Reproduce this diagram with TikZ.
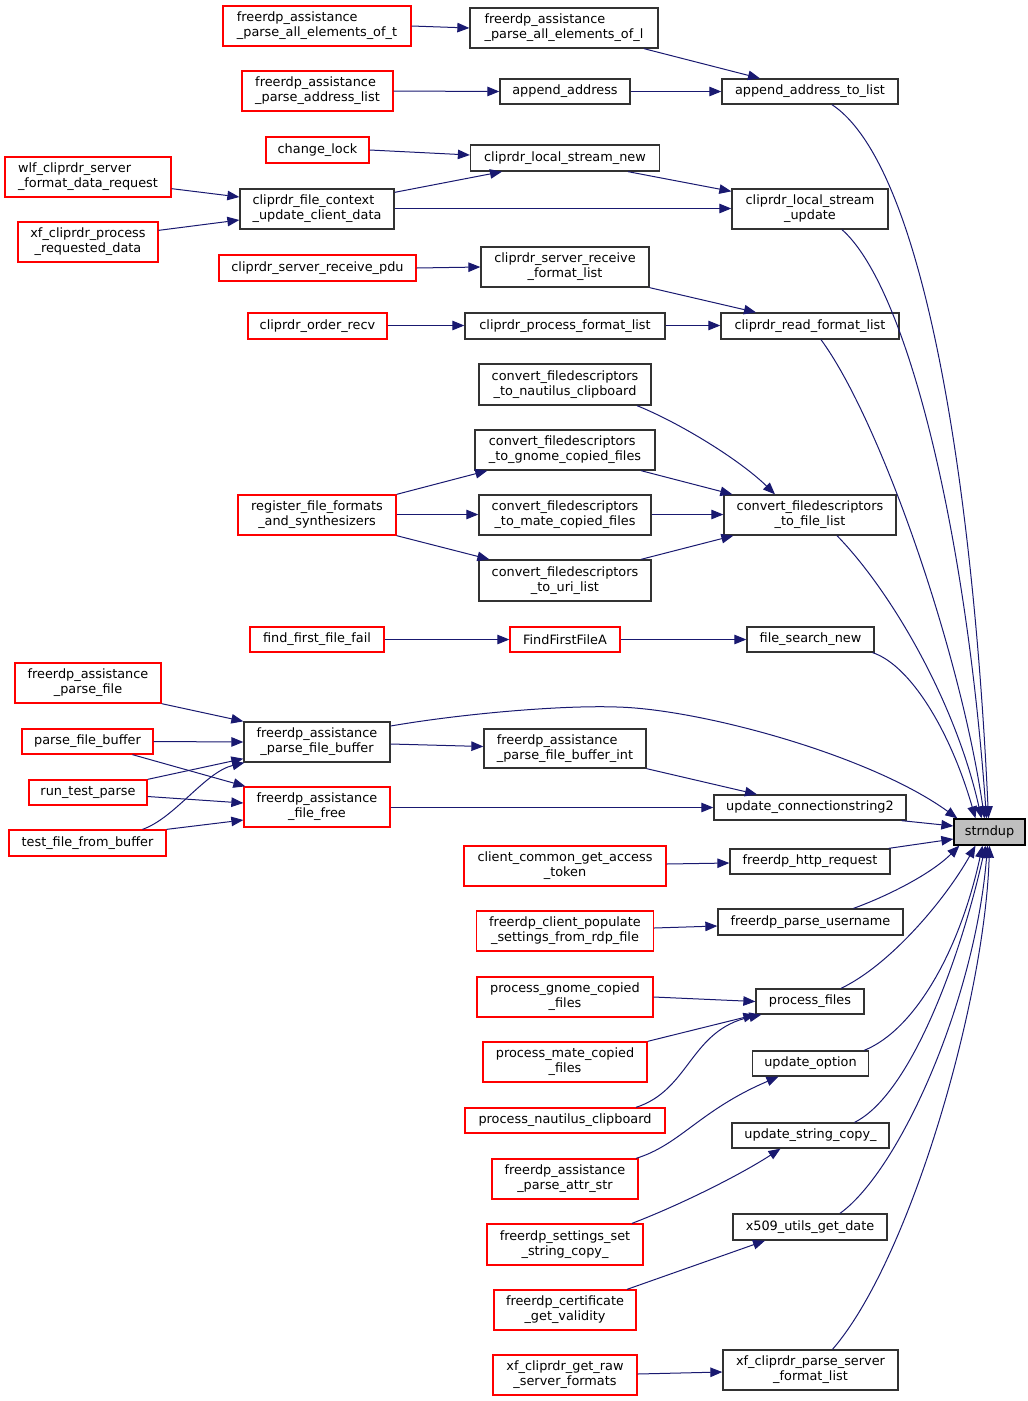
\documentclass[tikz,border=0pt]{standalone}
\usepackage{fontspec}
\usetikzlibrary{arrows.meta,calc}
\newfontfamily\dejavu{DejaVu Sans}
\definecolor{edgeblue}{RGB}{25,25,112}
\definecolor{boxgray}{RGB}{50,50,50}
\definecolor{fillgray}{RGB}{191,191,191}
\tikzset{
  fn/.style={draw=boxgray, fill=white, line width=1.3pt, inner sep=0pt, text=black,
    font={\dejavu\fontsize{12.85}{15}\selectfont}},
  fnr/.style={fn, draw=red},
  lft/.style={align=left},
  ctr/.style={align=center},
  edge/.style={draw=edgeblue, line width=1pt, -{Triangle[length=12pt,width=9.5pt]}},
}
\begin{document}
\begin{tikzpicture}[x=1pt,y=-1pt]
\useasboundingbox (0,0) rectangle (1028,1401);
% nodes
\node[fnr,lft,minimum width=188pt,minimum height=40pt] (n1) at (317,26) {freerdp\_assistance\\\_parse\_all\_elements\_of\_t};
\node[fn,lft,minimum width=188pt,minimum height=40pt] (n2) at (564,28) {freerdp\_assistance\\\_parse\_all\_elements\_of\_l};
\node[fnr,lft,minimum width=151pt,minimum height=40pt] (n3) at (317.5,91) {freerdp\_assistance\\\_parse\_address\_list};
\node[fn,minimum width=130pt,minimum height=25pt] (n4) at (565,91.5) {append\_address};
\node[fn,minimum width=176pt,minimum height=25pt] (n5) at (810,91.5) {append\_address\_to\_list};
\node[fnr,minimum width=103pt,minimum height=26pt] (n6) at (317.5,150) {change\_lock};
\node[fn,minimum width=189pt,minimum height=26pt] (n7) at (565,158) {cliprdr\_local\_stream\_new};
\node[fnr,lft,minimum width=166pt,minimum height=40pt] (n8) at (88,177) {wlf\_cliprdr\_server\\\_format\_data\_request};
\node[fnr,ctr,minimum width=140pt,minimum height=40pt] (n9) at (88,242) {xf\_cliprdr\_process\\\_requested\_data};
\node[fn,lft,minimum width=154pt,minimum height=40pt] (n10) at (317,209) {cliprdr\_file\_context\\\_update\_client\_data};
\node[fn,ctr,minimum width=156pt,minimum height=40pt] (n11) at (810,209) {cliprdr\_local\_stream\\\_update};
\node[fnr,minimum width=197pt,minimum height=26pt] (n12) at (317.5,268) {cliprdr\_server\_receive\_pdu};
\node[fn,ctr,minimum width=168pt,minimum height=40pt] (n13) at (565,267) {cliprdr\_server\_receive\\\_format\_list};
\node[fnr,minimum width=139pt,minimum height=26pt] (n14) at (317.5,326) {cliprdr\_order\_recv};
\node[fn,minimum width=200pt,minimum height=26pt] (n15) at (565,326) {cliprdr\_process\_format\_list};
\node[fn,minimum width=178pt,minimum height=26pt] (n16) at (810,326) {cliprdr\_read\_format\_list};
\node[fn,ctr,minimum width=172pt,minimum height=41pt] (n17) at (565,384.5) {convert\_filedescriptors\\\_to\_nautilus\_clipboard};
\node[fn,lft,minimum width=180pt,minimum height=40pt] (n18) at (565,450) {convert\_filedescriptors\\\_to\_gnome\_copied\_files};
\node[fn,ctr,minimum width=172pt,minimum height=40pt] (n19) at (565,515) {convert\_filedescriptors\\\_to\_mate\_copied\_files};
\node[fn,ctr,minimum width=172pt,minimum height=41pt] (n20) at (565,580.5) {convert\_filedescriptors\\\_to\_uri\_list};
\node[fn,ctr,minimum width=172pt,minimum height=40pt] (n21) at (810,515) {convert\_filedescriptors\\\_to\_file\_list};
\node[fnr,ctr,minimum width=158pt,minimum height=40pt] (n22) at (317,515) {register\_file\_formats\\\_and\_synthesizers};
\node[fnr,minimum width=134pt,minimum height=25pt] (n23) at (317,639.5) {find\_first\_file\_fail};
\node[fnr,minimum width=110pt,minimum height=25pt] (n24) at (565,639.5) {FindFirstFileA};
\node[fn,minimum width=127pt,minimum height=25pt] (n25) at (810.5,639.5) {file\_search\_new};
\node[fnr,ctr,minimum width=146pt,minimum height=40pt] (n26) at (88,683) {freerdp\_assistance\\\_parse\_file};
\node[fnr,minimum width=131pt,minimum height=25pt] (n27) at (87.5,741.5) {parse\_file\_buffer};
\node[fnr,minimum width=118pt,minimum height=25pt] (n28) at (88,792.5) {run\_test\_parse};
\node[fnr,minimum width=157pt,minimum height=26pt] (n29) at (87.5,843) {test\_file\_from\_buffer};
\node[fn,ctr,minimum width=146pt,minimum height=40pt] (n30) at (317,742) {freerdp\_assistance\\\_parse\_file\_buffer};
\node[fnr,ctr,minimum width=146pt,minimum height=40pt] (n31) at (317,807) {freerdp\_assistance\\\_file\_free};
\node[fn,lft,minimum width=162pt,minimum height=39pt] (n32) at (565,748.5) {freerdp\_assistance\\\_parse\_file\_buffer\_int};
\node[fn,minimum width=192pt,minimum height=25pt] (n33) at (810,807.5) {update\_connectionstring2};
\node[fn,draw=black,fill=fillgray,minimum width=71pt,minimum height=26pt] (n34) at (989.5,832) {strndup};
\node[fnr,ctr,minimum width=202pt,minimum height=40pt] (n35) at (565,866) {client\_common\_get\_access\\\_token};
\node[fn,minimum width=160pt,minimum height=25pt] (n36) at (810,861.5) {freerdp\_http\_request};
\node[fnr,ctr,minimum width=177pt,minimum height=40pt] (n37) at (565,931) {freerdp\_client\_populate\\\_settings\_from\_rdp\_file};
\node[fn,minimum width=185pt,minimum height=26pt] (n38) at (810.5,922) {freerdp\_parse\_username};
\node[fnr,ctr,minimum width=176pt,minimum height=40pt] (n39) at (565,997) {process\_gnome\_copied\\\_files};
\node[fn,minimum width=108pt,minimum height=25pt] (n40) at (810,1001.5) {process\_files};
\node[fnr,ctr,minimum width=164pt,minimum height=40pt] (n41) at (565,1062) {process\_mate\_copied\\\_files};
\node[fn,minimum width=116pt,minimum height=25pt] (n42) at (810.5,1063.5) {update\_option};
\node[fnr,minimum width=200pt,minimum height=25pt] (n43) at (565,1120.5) {process\_nautilus\_clipboard};
\node[fn,minimum width=157pt,minimum height=25pt] (n44) at (810.5,1135.5) {update\_string\_copy\_};
\node[fnr,ctr,minimum width=146pt,minimum height=40pt] (n45) at (565,1179) {freerdp\_assistance\\\_parse\_attr\_str};
\node[fn,minimum width=154pt,minimum height=26pt] (n46) at (810,1227) {x509\_utils\_get\_date};
\node[fnr,ctr,minimum width=156pt,minimum height=41pt] (n47) at (565,1244.5) {freerdp\_settings\_set\\\_string\_copy\_};
\node[fnr,ctr,minimum width=142pt,minimum height=40pt] (n48) at (565,1310) {freerdp\_certificate\\\_get\_validity};
\node[fnr,ctr,minimum width=144pt,minimum height=40pt] (n49) at (565,1375) {xf\_cliprdr\_get\_raw\\\_server\_formats};
\node[fn,ctr,minimum width=175pt,minimum height=40pt] (n50) at (810.5,1370) {xf\_cliprdr\_parse\_server\\\_format\_list};
% edges
\draw[edge] (n1.east) -- (n2.west);
\draw[edge] ($(n2.south)+(80,0)$) -- ($(n5.north)+(-50,0)$);
\draw[edge] (n3.east) -- (n4.west);
\draw[edge] (n4.east) -- (n5.west);
\draw[edge] ($(n5.south)+(22,0)$) .. controls (930,170) and (975,520) .. ($(n34.north)+(-1,0)$);
\draw[edge] (n6.east) -- ($(n7.west)+(0,-3)$);
\draw[edge] ($(n10.north east)+(0,4)$) -- ($(n7.south)+(-63,0)$);
\draw[edge] ($(n10.east)+(0,-0.5)$) -- ($(n11.west)+(0,-0.5)$);
\draw[edge] ($(n8.south east)+(0,-9)$) -- ($(n10.west)+(0,-12)$);
\draw[edge] ($(n9.north east)+(0,9)$) -- ($(n10.west)+(0,11)$);
\draw[edge] ($(n7.south)+(63,0)$) -- ($(n11.north west)+(0,3)$);
\draw[edge] ($(n11.south)+(32,0)$) .. controls (905,285) and (965,520) .. ($(n34.north)+(-3,0)$);
\draw[edge] (n12.east) -- (n13.west);
\draw[edge] (n13.south east) -- ($(n16.north)+(-54,0)$);
\draw[edge] ($(n14.east)+(0,-0.5)$) -- ($(n15.west)+(0,-0.5)$);
\draw[edge] ($(n15.east)+(0,-0.5)$) -- ($(n16.west)+(0,-0.5)$);
\draw[edge] ($(n16.south)+(11,0)$) .. controls (880,420) and (960,650) .. ($(n34.north)+(-5,0)$);
\draw[edge] ($(n17.south)+(72,0)$) .. controls (680,423) and (740,460) .. ($(n21.north)+(-35,0)$);
\draw[edge] ($(n18.south)+(76,0)$) -- ($(n21.north west)+(9,0)$);
\draw[edge] ($(n19.east)+(0,-0.5)$) -- ($(n21.west)+(0,-0.5)$);
\draw[edge] ($(n20.north)+(76,0)$) -- ($(n21.south west)+(10,0)$);
\draw[edge] (n22.north east) -- ($(n18.south west)+(13,0)$);
\draw[edge] ($(n22.east)+(0,-0.5)$) -- ($(n19.west)+(0,-0.5)$);
\draw[edge] (n22.south east) -- ($(n20.north west)+(11,0)$);
\draw[edge] ($(n21.south)+(27,0)$) .. controls (890,590) and (955,700) .. ($(n34.north)+(-8,0)$);
\draw[edge] (n23.east) -- (n24.west);
\draw[edge] (n24.east) -- (n25.west);
\draw[edge] ($(n25.south east)+(-2,0)$) .. controls (910,665) and (950,730) .. ($(n34.north)+(-14,0)$);
\draw[edge] (n26.south east) -- (n30.north west);
\draw[edge] (n27.east) -- (n30.west);
\draw[edge] ($(n27.south)+(45,0)$) -- ($(n31.north west)+(2,0)$);
\draw[edge] (n28.north east) -- ($(n30.south west)+(0,-4)$);
\draw[edge] ($(n28.east)+(0,4)$) -- ($(n31.west)+(0,-4)$);
\draw[edge] ($(n29.north)+(55,0)$) .. controls (175,818) and (205,772) .. ($(n30.south west)+(1,0)$);
\draw[edge] (n29.north east) -- ($(n31.west)+(0,13)$);
\draw[edge] ($(n30.east)+(0,-16)$) .. controls (460,714) and (560,705) .. (617,707) .. controls (700,709) and (870,755) .. ($(n34.north west)+(4,0)$);
\draw[edge] ($(n30.east)+(0,2)$) -- ($(n32.west)+(0,-2)$);
\draw[edge] (n32.south east) -- ($(n33.north)+(-53,0)$);
\draw[edge] ($(n31.east)+(0,0.5)$) -- ($(n33.west)+(0,0)$);
\draw[edge] ($(n33.south east)+(-5,0)$) -- ($(n34.west)+(0,-6)$);
\draw[edge] ($(n35.east)+(0,-2)$) -- ($(n36.west)+(0,1.5)$);
\draw[edge] ($(n36.north east)+(-2,0)$) -- ($(n34.west)+(0,7)$);
\draw[edge] ($(n37.east)+(0,-3)$) -- ($(n38.west)+(0,4)$);
\draw[edge] ($(n38.north)+(43,0)$) .. controls (885,897) and (930,875) .. ($(n34.south west)+(6,0)$);
\draw[edge] (n39.east) -- (n40.west);
\draw[edge] (n41.north east) -- (n40.south west);
\draw[edge] ($(n43.north)+(71,0)$) .. controls (690,1090) and (690,1030) .. ($(n40.south west)+(6,0)$);
\draw[edge] ($(n40.north)+(31,0)$) .. controls (890,965) and (945,900) .. ($(n34.south)+(-14,0)$);
\draw[edge] ($(n45.north)+(71,0)$) .. controls (680,1145) and (700,1110) .. ($(n42.south)+(-32,0)$);
\draw[edge] ($(n42.north east)+(-5,0)$) .. controls (915,1030) and (960,950) .. ($(n34.south)+(-7,0)$);
\draw[edge] ($(n47.north)+(67,0)$) .. controls (680,1205) and (740,1175) .. ($(n44.south)+(-30,0)$);
\draw[edge] ($(n44.north)+(44,0)$) .. controls (910,1095) and (960,960) .. ($(n34.south)+(-4,0)$);
\draw[edge] ($(n48.north)+(62,0)$) -- ($(n46.south)+(-45,0)$);
\draw[edge] ($(n46.north)+(30,0)$) .. controls (900,1170) and (975,1000) .. ($(n34.south)+(-2,0)$);
\draw[edge] ($(n49.east)+(0,-1)$) -- ($(n50.west)+(0,2)$);
\draw[edge] ($(n50.north)+(22,0)$) .. controls (910,1260) and (985,1000) .. (n34.south);
\end{tikzpicture}
\end{document}
